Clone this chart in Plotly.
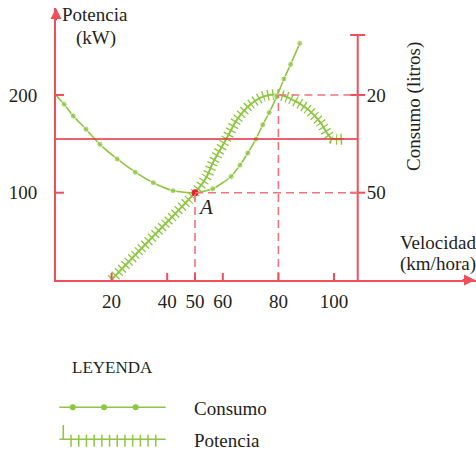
import plotly.graph_objects as go

W, H = 476, 452

# ---------------- data ----------------
consumo_x = [0, 2.9, 6.2, 10.8, 15.8, 22.0, 28.5, 35.0, 42.1, 50.0, 56.4, 63.0, 66.2, 69.0, 71.9, 74.4, 76.7, 79.4, 82.0, 84.4, 87.7]
consumo_y = [200, 190.5, 178.5, 165, 149.5, 134.5, 121, 110.2, 102, 100, 104, 116.6, 128.2, 140.6, 154.8, 169.6, 182, 198.3, 216.4, 231.4, 252.9]
potencia_x = [20, 30.2, 39.8, 50, 54.2, 56.5, 58.3, 61.4, 65, 69.7, 74.5, 79.4, 84.1, 90.1, 94.9, 99.1, 103.5]
potencia_y = [11, 41.4, 69.5, 100, 116.4, 131, 140.3, 155.7, 174.4, 189.8, 198.3, 200.5, 196.6, 186.4, 172.7, 155.7, 155]

x_ticks = [20, 40, 50, 60, 80, 100]
left_ticks = [100, 200]
right_tick_pos = [200, 100]
right_tick_text = ["20", "50"]

point_A = (50, 100)
point_max = (80, 200)
ref_line_y = 155

# ---------------- geometry ----------------
X0PX, XAXPY = 56, 280          # pixel position of axes corner
PX_PER_X = 2.78
PX_PER_Y = 0.977
Y100_PY = 192.7
TOP_PY = 8

def ydata(py):
    return 100 + (Y100_PY - py) / PX_PER_Y

x_max = (W - X0PX) / PX_PER_X
y_min = ydata(XAXPY)
y_max = ydata(TOP_PY)
right_x = (357.7 - X0PX) / PX_PER_X
right_top = ydata(35)

RED = "#f04e5a"
RED_DARK = "#e52e3c"
RED_DASH = "#f4727d"
GREEN = "#8dc63f"
TXT = "#231f20"
FONT = "Liberation Serif"

fig = go.Figure()

# Potencia: hatch (thick dashed) + centre line
fig.add_trace(go.Scatter(x=potencia_x, y=potencia_y, mode="lines",
                         line=dict(color=GREEN, width=11, dash="1.3px,3.5px", shape="spline", smoothing=0.7),
                         hoverinfo="skip", showlegend=False))
fig.add_trace(go.Scatter(x=potencia_x, y=potencia_y, mode="lines",
                         line=dict(color=GREEN, width=2, shape="spline", smoothing=0.7),
                         hoverinfo="skip", showlegend=False))
# Consumo
sizes = [0] + [6] * (len(consumo_x) - 1)
fig.add_trace(go.Scatter(x=consumo_x, y=consumo_y, mode="lines+markers",
                         line=dict(color=GREEN, width=1.6, shape="spline", smoothing=0.6),
                         marker=dict(color=GREEN, size=sizes),
                         hoverinfo="skip", showlegend=False))
# Point A
fig.add_trace(go.Scatter(x=[point_A[0]], y=[point_A[1]], mode="markers",
                         marker=dict(color="#e8202e", size=7), hoverinfo="skip", showlegend=False))
# invisible trace for right axis
fig.add_trace(go.Scatter(x=[point_A[0]], y=[point_A[1]], yaxis="y2", mode="markers",
                         marker=dict(opacity=0), hoverinfo="skip", showlegend=False))

# ---------------- legend (drawn in pixel overlay axes) ----------------
LEG_X0, LEG_X1 = 59.3, 165.7
LEG_C_Y, LEG_P_Y = 407.3, 439.3
leg_dots = [72.7, 104, 135.7]
fig.add_trace(go.Scatter(x=[LEG_X0, LEG_X1], y=[LEG_C_Y, LEG_C_Y], mode="lines",
                         line=dict(color=GREEN, width=1.6), xaxis="x3", yaxis="y3",
                         hoverinfo="skip", showlegend=False))
fig.add_trace(go.Scatter(x=leg_dots, y=[LEG_C_Y] * 3, mode="markers",
                         marker=dict(color=GREEN, size=6), xaxis="x3", yaxis="y3",
                         hoverinfo="skip", showlegend=False))
fig.add_trace(go.Scatter(x=[LEG_X0, LEG_X1], y=[LEG_P_Y, LEG_P_Y], mode="lines",
                         line=dict(color=GREEN, width=1.6), xaxis="x3", yaxis="y3",
                         hoverinfo="skip", showlegend=False))
fig.add_trace(go.Scatter(x=[70.3, 157], y=[LEG_P_Y + 1.5, LEG_P_Y + 1.5], mode="lines",
                         line=dict(color=GREEN, width=12, dash="1.5px,6.2px"), xaxis="x3", yaxis="y3",
                         hoverinfo="skip", showlegend=False))
fig.add_trace(go.Scatter(x=[63.3, 63.3], y=[425, LEG_P_Y], mode="lines",
                         line=dict(color=GREEN, width=1.6), xaxis="x3", yaxis="y3",
                         hoverinfo="skip", showlegend=False))

# ---------------- shapes ----------------
shapes = []
shapes.append(dict(type="line", xref="x", yref="y", x0=0, x1=right_x, y0=ref_line_y, y1=ref_line_y,
                   line=dict(color=RED_DARK, width=1.6)))
shapes.append(dict(type="line", xref="x", yref="y", x0=right_x, x1=right_x, y0=y_min, y1=right_top,
                   line=dict(color=RED, width=2)))
for yy in right_tick_pos + [right_top]:
    shapes.append(dict(type="line", xref="x", yref="y", xsizemode="pixel", xanchor=right_x,
                       x0=-7.5, x1=7.5, y0=yy, y1=yy, line=dict(color=RED, width=2)))
for (px_, py_) in [point_A, point_max]:
    shapes.append(dict(type="line", xref="x", yref="y", x0=px_, x1=right_x, y0=py_, y1=py_,
                       line=dict(color=RED_DASH, width=1.6, dash="8px,5px")))
    shapes.append(dict(type="line", xref="x", yref="y", x0=px_, x1=px_, y0=y_min, y1=py_,
                       line=dict(color=RED_DASH, width=1.6, dash="8px,5px")))
for xv in x_ticks:
    shapes.append(dict(type="line", xref="x", yref="y", ysizemode="pixel", yanchor=y_min,
                       x0=xv, x1=xv, y0=-7, y1=7, line=dict(color=RED, width=2)))
for yv in left_ticks:
    shapes.append(dict(type="line", xref="x", yref="y", xsizemode="pixel", xanchor=0,
                       x0=-8, x1=8, y0=yv, y1=yv, line=dict(color=RED, width=2)))

# ---------------- annotations ----------------
def P(px_, py_):
    return px_ / W, 1 - py_ / H

ann = []
def text(s, px_, py_, size=19, xanchor="center", angle=0):
    x, y = P(px_, py_)
    ann.append(dict(text=s, x=x, y=y, xref="paper", yref="paper", xanchor=xanchor, yanchor="middle",
                    showarrow=False, textangle=angle, font=dict(family=FONT, size=size, color=TXT)))

text("Potencia", 95, 15)
text("(kW)", 95.5, 38)
text("Velocidad", 398, 242, xanchor="left")
text("(km/hora)", 398, 263.5, xanchor="left")
text("Consumo (litros)", 414, 107, angle=-90)
text("<i>A</i>", 205.5, 207, size=21)
text("LEYENDA", 112, 367.5, size=17)
text("Consumo", 191.5, 408, xanchor="left")
text("Potencia", 191.5, 440, xanchor="left")

ax_, ay_ = P(56, TOP_PY)
ann.append(dict(text="", x=ax_, y=ay_, xref="paper", yref="paper", showarrow=True, ax=0, ay=14,
                arrowhead=2, arrowsize=1.1, arrowwidth=2, arrowcolor=RED))
ax_, ay_ = P(475, XAXPY)
ann.append(dict(text="", x=ax_, y=ay_, xref="paper", yref="paper", showarrow=True, ax=-14, ay=0,
                arrowhead=2, arrowsize=1.1, arrowwidth=2, arrowcolor=RED))

ydom = [(H - XAXPY) / H, (H - TOP_PY) / H]
tickfont = dict(family=FONT, size=19, color=TXT)

fig.update_layout(
    width=W, height=H, margin=dict(l=0, r=0, t=0, b=0),
    paper_bgcolor="white", plot_bgcolor="rgba(0,0,0,0)",
    showlegend=False,
    xaxis=dict(domain=[X0PX / W, 1], range=[0, x_max], showgrid=False, zeroline=False,
               showline=True, linecolor=RED, linewidth=2, ticks="",
               tickvals=x_ticks, ticktext=[str(v) for v in x_ticks], tickfont=tickfont,
               ticklabelstandoff=3),
    yaxis=dict(domain=ydom, range=[y_min, y_max], showgrid=False, zeroline=False,
               showline=True, linecolor=RED, linewidth=2, ticks="",
               tickvals=left_ticks, ticktext=[str(v) for v in left_ticks], tickfont=tickfont,
               ticklabelstandoff=13),
    yaxis2=dict(overlaying="y", anchor="free", position=357.7 / W, side="right",
                range=[y_min, y_max], showgrid=False, zeroline=False, showline=False, ticks="",
                tickvals=right_tick_pos, ticktext=right_tick_text, tickfont=tickfont,
                ticklabelstandoff=8),
    xaxis3=dict(domain=[0, 1], range=[0, W], visible=False, anchor="y3"),
    yaxis3=dict(domain=[0, 1], range=[H, 0], visible=False, anchor="x3"),
    shapes=shapes, annotations=ann,
)

fig.write_html("out.html", config={"displayModeBar": False},
               post_script="document.body.style.margin='0';document.body.style.overflow='hidden';")
